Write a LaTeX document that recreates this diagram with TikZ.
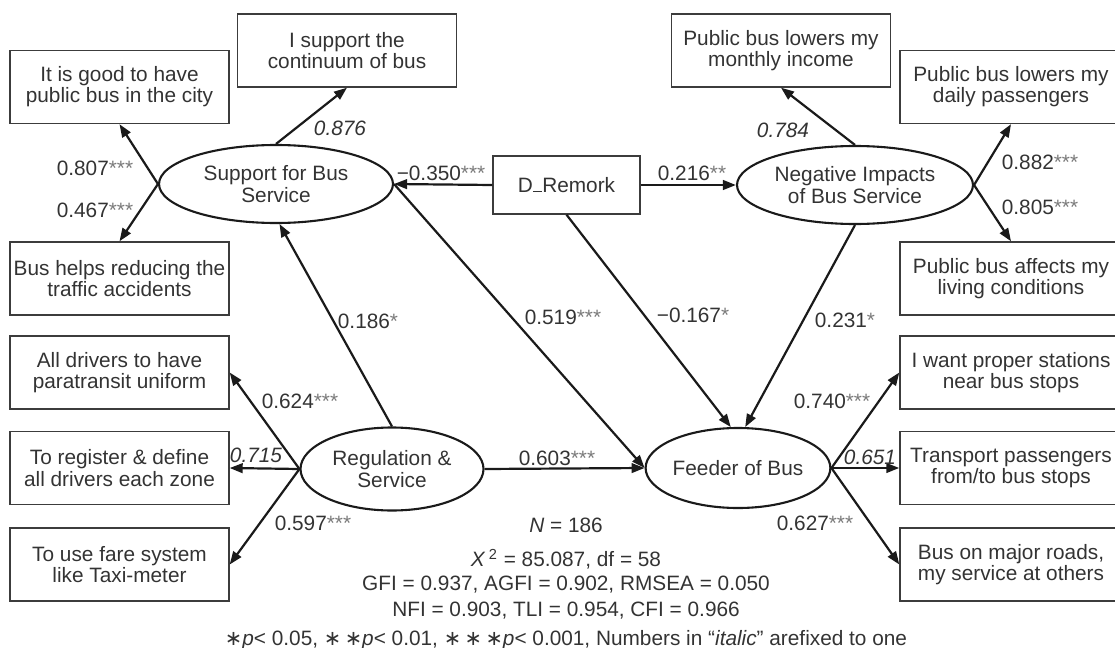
\documentclass[tikz,border=0pt]{standalone}
\usepackage{fontspec}
\setmainfont{Liberation Sans}
\newfontfamily\djv{DejaVu Sans}
\usetikzlibrary{arrows.meta,shapes.geometric}
\definecolor{txt}{HTML}{333333}
\definecolor{ln}{HTML}{1A1A1A}
\newcommand\sigst[1]{\textcolor{txt!65}{#1}}
\newcommand\bigast{{\djv ∗}}
\begin{document}
\begin{tikzpicture}[x=0.5pt,y=-0.5pt,
  every node/.style={font=\fontsize{10.4pt}{10.6pt}\selectfont, text=txt},
  box/.style={draw=ln!85, line width=0.7pt, minimum width=109.5pt, minimum height=36.5pt, align=center, inner sep=0pt},
  latent/.style={ellipse, draw=ln, line width=1.05pt, align=center, inner sep=0pt},
  conn/.style={draw=ln, line width=1.1pt, -{Triangle[length=6.5pt,width=4.8pt]}},
  lbl/.style={inner sep=0pt},
  ]
\useasboundingbox (0,0) rectangle (1115,648);
\clip (0,0) rectangle (1115,648);
% observed boxes
\node[box] (b1) at (119.5,87) {It is good to have\\public bus in the city};
\node[box] (b2) at (347,50.5) {I support the\\continuum of bus};
\node[box] (b3) at (119.5,278.5) {Bus helps reducing the\\traffic accidents};
\node[box] (b4) at (781,50.5) {Public bus lowers my\\monthly income};
\node[box, minimum width=111pt] (b5) at (1011,87) {Public bus lowers my\\daily passengers};
\node[box, minimum width=111pt] (b6) at (1011,278.5) {Public bus affects my\\living conditions};
\node[box] (b7) at (119.5,372.5) {All drivers to have\\paratransit uniform};
\node[box] (b8) at (119.5,468) {To register \& define\\all drivers each zone};
\node[box] (b9) at (119.5,564.5) {To use fare system\\like Taxi-meter};
\node[box, minimum width=111pt] (b10) at (1011,372.5) {I want proper stations\\near bus stops};
\node[box, minimum width=111pt] (b11) at (1011,468) {Transport passengers\\from/to bus stops};
\node[box, minimum width=111pt] (b12) at (1011,564.5) {Bus on major roads,\\my service at others};
\node[box, minimum width=73.5pt, minimum height=29pt] (dr) at (566.5,185) {D\rule{0.45em}{0.07em}Remork};
% latent ellipses
\node[latent, minimum width=117pt, minimum height=39pt] (sup) at (276,184) {Support for Bus\\Service};
\node[latent, minimum width=118pt, minimum height=39pt] (neg) at (855,185) {Negative Impacts\\of Bus Service};
\node[latent, minimum width=91.5pt, minimum height=41.5pt] (reg) at (392,469) {Regulation \&\\Service};
\node[latent, minimum width=91.5pt, minimum height=40pt] (feed) at (738,468) {Feeder of Bus};
% connectors
\draw[conn] (sup.west) -- (b1.south);
\draw[conn] (sup.west) -- (b3.north);
\draw[conn] (sup.north) -- (b2.south);
\draw[conn] (neg.north) -- (b4.south);
\draw[conn] (neg.east) -- (b5.south);
\draw[conn] (neg.east) -- (b6.north);
\draw[conn] (reg.west) -- (b7.east);
\draw[conn] (reg.west) -- (b8.east);
\draw[conn] (reg.west) -- (b9.east);
\draw[conn] (feed.east) -- (b10.west);
\draw[conn] (feed.east) -- (b11.west);
\draw[conn] (feed.east) -- (b12.west);
\draw[conn] (dr.west) -- (sup.east);
\draw[conn] (dr.east) -- (neg.west);
\draw[conn] (reg.north) -- (sup.-85);
\draw[conn] (reg.east) -- (feed.west);
\draw[conn] (sup.east) -- (feed.west);
\draw[conn] (dr.south) -- (feed.100);
\draw[conn] (neg.south) -- (feed.80);
% labels
\node[lbl] (l1) at (95,168) {0.807\sigst{***}};
\node[lbl] (l2) at (95,210) {0.467\sigst{***}};
\node[lbl] (l3) at (340,128) {\textit{0.876}};
\node[lbl] (l4) at (441,173) {−0.350\sigst{***}};
\node[lbl] (l5) at (692,173) {0.216\sigst{**}};
\node[lbl] (l6) at (783,130) {\textit{0.784}};
\node[lbl] (l7) at (1040,162) {0.882\sigst{***}};
\node[lbl] (l8) at (1040,207) {0.805\sigst{***}};
\node[lbl] (l9) at (368,321) {0.186\sigst{*}};
\node[lbl] (l10) at (563,317) {0.519\sigst{***}};
\node[lbl] (l11) at (693,315) {−0.167\sigst{*}};
\node[lbl] (l12) at (845,320) {0.231\sigst{*}};
\node[lbl] (l13) at (300,401) {0.624\sigst{***}};
\node[lbl] (l14) at (256,455) {\textit{0.715}};
\node[lbl] (l15) at (313,523) {0.597\sigst{***}};
\node[lbl] (l16) at (557,458) {0.603\sigst{***}};
\node[lbl] (l17) at (832,401) {0.740\sigst{***}};
\node[lbl] (l18) at (870,457) {\textit{0.651}};
\node[lbl] (l19) at (815,523) {0.627\sigst{***}};
% fit statistics
\node[lbl] (s1) at (566,525) {\textit{N} = 186};
\node[lbl] (s2) at (566,559) {\textit{X}\,\textsuperscript{2} = 85.087, df = 58};
\node[lbl] (s3) at (566,585) {GFI = 0.937, AGFI = 0.902, RMSEA = 0.050};
\node[lbl] (s4) at (566,611) {NFI = 0.903, TLI = 0.954, CFI = 0.966};
\node[lbl] (s5) at (566,640) {\bigast\textit{p}< 0.05, \bigast\,\bigast\textit{p}< 0.01, \bigast\,\bigast\,\bigast\textit{p}< 0.001, Numbers in “\textit{italic}” arefixed to one};
\end{tikzpicture}
\end{document}
